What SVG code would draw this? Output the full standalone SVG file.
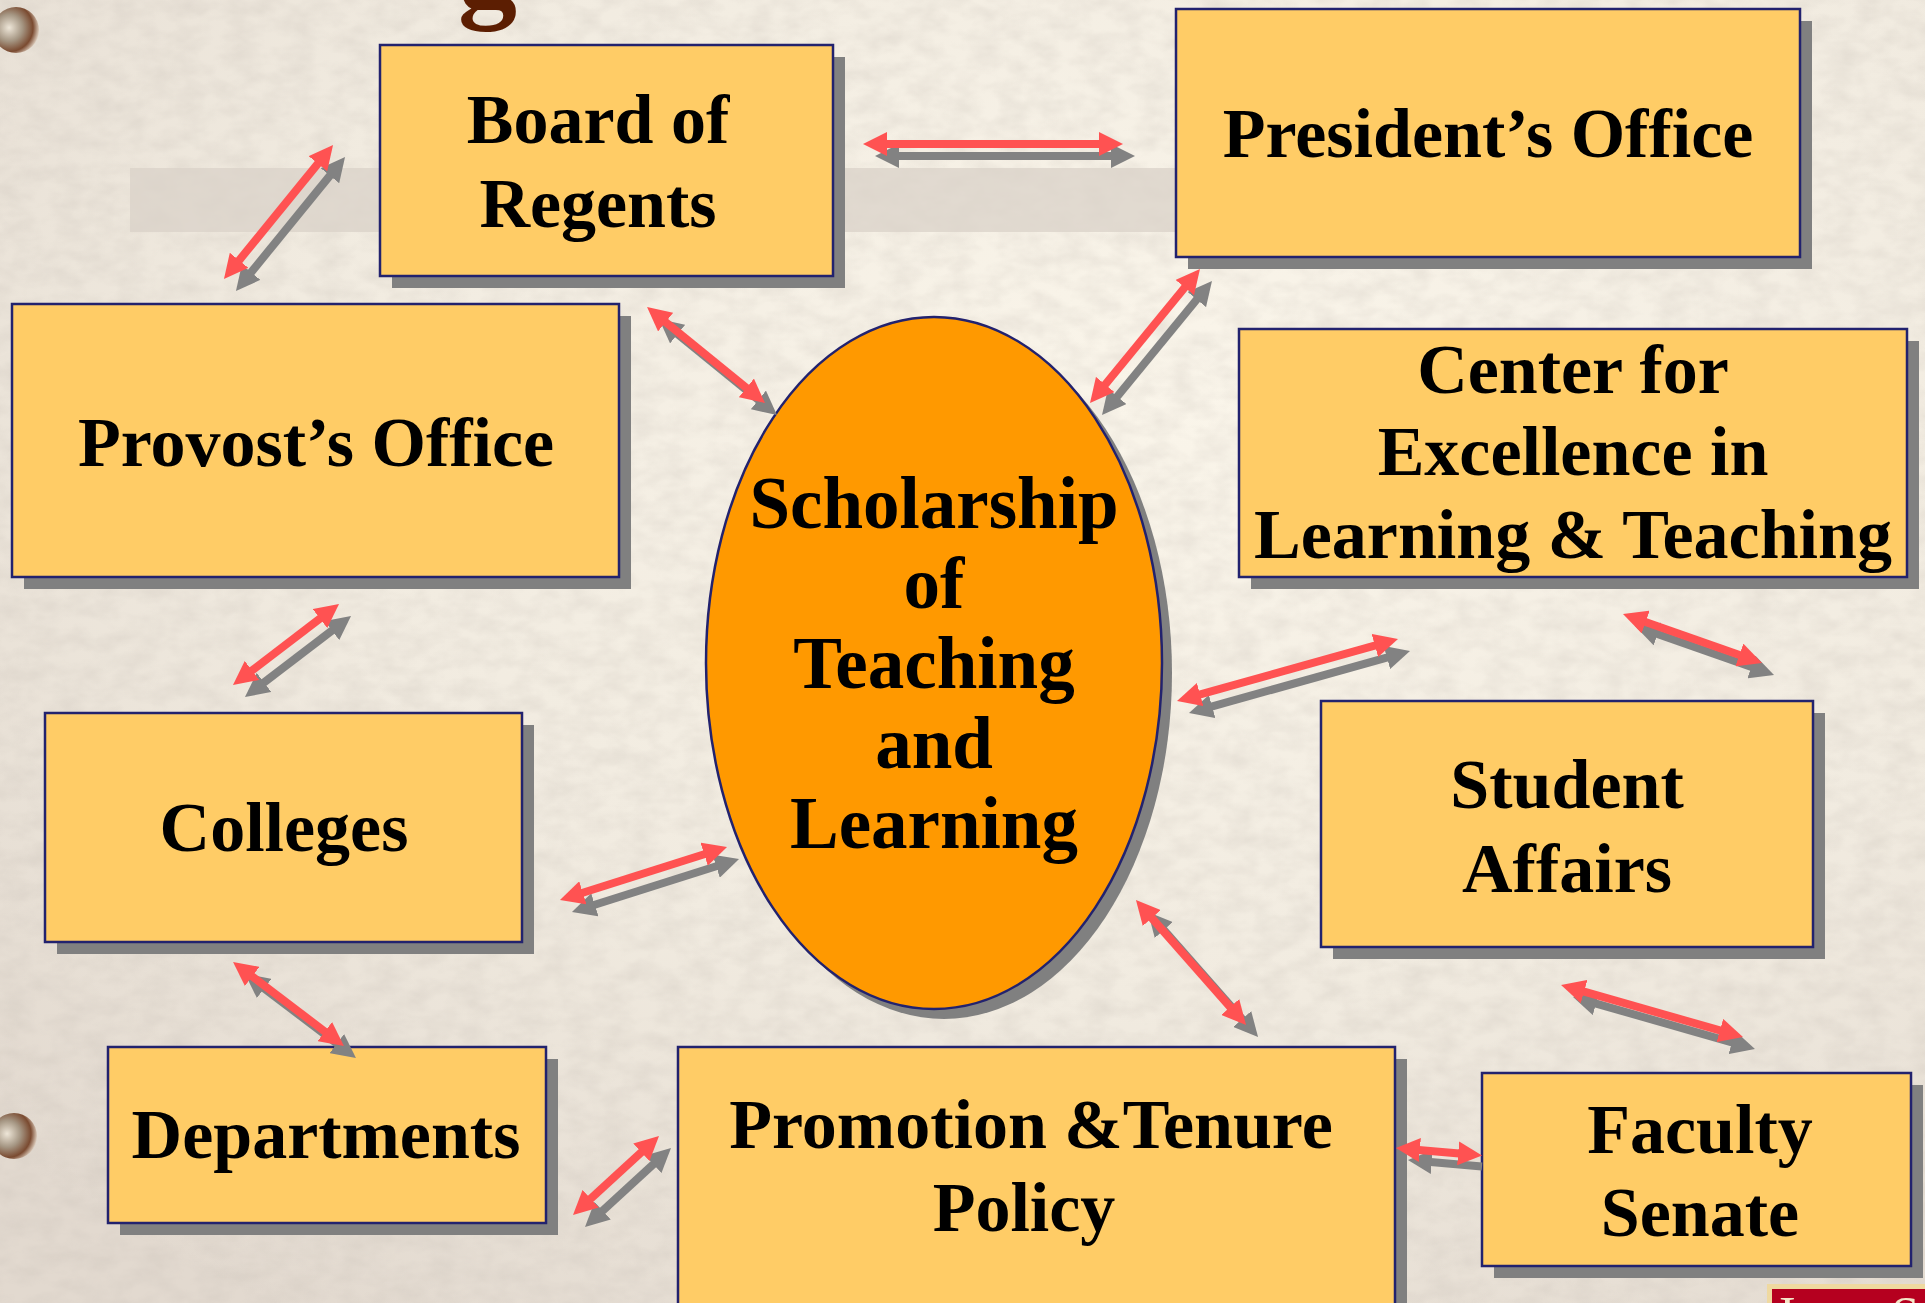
<svg xmlns="http://www.w3.org/2000/svg" width="1925" height="1303" viewBox="0 0 1925 1303">
<style>
.box{fill:#FFCC66;stroke:#22226E;stroke-width:2.5}
.shadow{fill:#808080}
.oval{fill:#FF9900;stroke:#22226E;stroke-width:2.5}
.lbl{font-family:"Liberation Serif","Times New Roman",serif;font-weight:bold;font-size:70px;fill:#000;text-anchor:middle}
.big{font-size:73px}
.red{stroke:#FF5252;stroke-width:8;fill:none;marker-start:url(#hr);marker-end:url(#hr)}
.gry{stroke:#828282;stroke-width:8;fill:none;marker-start:url(#hg);marker-end:url(#hg)}
</style>
<defs>
<marker id="hr" markerUnits="userSpaceOnUse" markerWidth="24" markerHeight="24" viewBox="0 0 24 24" refX="10" refY="12" orient="auto-start-reverse"><path d="M0,0 L24,12 L0,24 Z" fill="#FF5252"/></marker>
<marker id="hg" markerUnits="userSpaceOnUse" markerWidth="24" markerHeight="24" viewBox="0 0 24 24" refX="10" refY="12" orient="auto-start-reverse"><path d="M0,0 L24,12 L0,24 Z" fill="#828282"/></marker>
<radialGradient id="bg" cx="0.62" cy="0.3" r="0.85">
<stop offset="0" stop-color="#FAF5EA"/>
<stop offset="0.55" stop-color="#F1EBE0"/>
<stop offset="1" stop-color="#E2D9CF"/>
</radialGradient>
<radialGradient id="hole" cx="0.35" cy="0.45" r="0.65">
<stop offset="0" stop-color="#EEE6D8"/>
<stop offset="0.45" stop-color="#A59683"/>
<stop offset="0.8" stop-color="#7A4A30"/>
<stop offset="1" stop-color="#D9C8B8"/>
</radialGradient>
<filter id="tex" x="0" y="0" width="1" height="1">
<feTurbulence type="fractalNoise" baseFrequency="0.035 0.06" numOctaves="3" seed="4"/>
<feColorMatrix type="matrix" values="0 0 0 0 0.55  0 0 0 0 0.5  0 0 0 0 0.45  0 0 0 -1.1 0.75"/>
</filter>
</defs>
<rect width="1925" height="1303" fill="url(#bg)"/>
<rect width="1925" height="1303" filter="url(#tex)" opacity="0.4"/>
<rect x="130" y="168" width="1046" height="64" fill="#DAD2C8" opacity="0.75"/>
<circle cx="16" cy="30" r="23" fill="url(#hole)"/>
<circle cx="14" cy="1136" r="23" fill="url(#hole)"/>
<text x="458" y="6" font-family="Liberation Serif,serif" font-weight="bold" font-size="118" fill="#5C1E02">g</text>
<g id="logo">
<rect x="1767" y="1284" width="170" height="30" fill="#EFD9A0"/>
<rect x="1772" y="1289" width="160" height="25" fill="#B5001F"/>
<text x="1779" y="1331" font-family="Liberation Serif,serif" font-size="50" fill="#F4E6C8">Iowa State</text>
</g>
<g id="nodes">
<g id="board"><rect class="shadow" x="392" y="57" width="453" height="231"/><rect class="box" x="380" y="45" width="453" height="231"/><text class="lbl" x="598" y="143">Board of</text><text class="lbl" x="598" y="227">Regents</text></g>
<g id="president"><rect class="shadow" x="1188" y="21" width="624" height="248"/><rect class="box" x="1176" y="9" width="624" height="248"/><text class="lbl" x="1488" y="157">President’s Office</text></g>
<g id="provost"><rect class="shadow" x="24" y="316" width="607" height="273"/><rect class="box" x="12" y="304" width="607" height="273"/><text class="lbl" x="316" y="466">Provost’s Office</text></g>
<g id="center"><rect class="shadow" x="1251" y="341" width="668" height="248"/><rect class="box" x="1239" y="329" width="668" height="248"/><text class="lbl" x="1573" y="393">Center for</text><text class="lbl" x="1573" y="475">Excellence in</text><text class="lbl" x="1573" y="558">Learning &amp; Teaching</text></g>
<g id="colleges"><rect class="shadow" x="57" y="725" width="477" height="229"/><rect class="box" x="45" y="713" width="477" height="229"/><text class="lbl" x="284" y="851">Colleges</text></g>
<g id="student"><rect class="shadow" x="1333" y="713" width="492" height="246"/><rect class="box" x="1321" y="701" width="492" height="246"/><text class="lbl" x="1567" y="808">Student</text><text class="lbl" x="1567" y="892">Affairs</text></g>
<g id="departments"><rect class="shadow" x="120" y="1059" width="438" height="176"/><rect class="box" x="108" y="1047" width="438" height="176"/><text class="lbl" x="326" y="1158">Departments</text></g>
<g id="promotion"><rect class="shadow" x="690" y="1059" width="717" height="280"/><rect class="box" x="678" y="1047" width="717" height="280"/><text class="lbl" x="1031" y="1148">Promotion &amp;Tenure</text><text class="lbl" x="1024" y="1231">Policy</text></g>
<g id="faculty"><rect class="shadow" x="1494" y="1085" width="429" height="193"/><rect class="box" x="1482" y="1073" width="429" height="193"/><text class="lbl" x="1700" y="1153">Faculty</text><text class="lbl" x="1700" y="1236">Senate</text></g>
<g id="scholarship"><ellipse class="shadow" cx="944" cy="673" rx="228" ry="346"/><ellipse class="oval" cx="934" cy="663" rx="228" ry="346"/><text class="lbl big" x="934" y="528">Scholarship</text><text class="lbl big" x="934" y="608">of</text><text class="lbl big" x="934" y="688">Teaching</text><text class="lbl big" x="934" y="768">and</text><text class="lbl big" x="934" y="848">Learning</text></g>
</g>
<g id="connectors">
<g transform="translate(12,12)">
<line class="gry" x1="324.2" y1="155.9" x2="232.8" y2="268.1"/>
<line class="gry" x1="877" y1="144" x2="1109" y2="144"/>
<line class="gry" x1="657.9" y1="315.8" x2="754.1" y2="394.2"/>
<line class="gry" x1="1191.1" y1="279.8" x2="1098.9" y2="392.2"/>
<line class="gry" x1="327.9" y1="612.5" x2="244.1" y2="676.5"/>
<line class="gry" x1="1384.5" y1="642.8" x2="1190.5" y2="697.2"/>
<line class="gry" x1="1636.2" y1="618.7" x2="1748.8" y2="658.3"/>
<line class="gry" x1="713.7" y1="851.2" x2="573.3" y2="895.8"/>
<line class="gry" x1="244.2" y1="970.4" x2="332.8" y2="1037.6"/>
<line class="gry" x1="1145.2" y1="910.5" x2="1236.8" y2="1014.5"/>
<line class="gry" x1="1574.5" y1="988.8" x2="1729.5" y2="1033.2"/>
<line class="gry" x1="648.7" y1="1145.5" x2="583.3" y2="1205.5"/>
<line class="gry" style="marker-end:none" x1="1409.9" y1="1149.2" x2="1470" y2="1154.5"/>
</g>
<line class="red" x1="324.2" y1="155.9" x2="232.8" y2="268.1"/>
<line class="red" x1="877" y1="144" x2="1109" y2="144"/>
<line class="red" x1="657.9" y1="315.8" x2="754.1" y2="394.2"/>
<line class="red" x1="1191.1" y1="279.8" x2="1098.9" y2="392.2"/>
<line class="red" x1="327.9" y1="612.5" x2="244.1" y2="676.5"/>
<line class="red" x1="1384.5" y1="642.8" x2="1190.5" y2="697.2"/>
<line class="red" x1="1636.2" y1="618.7" x2="1748.8" y2="658.3"/>
<line class="red" x1="713.7" y1="851.2" x2="573.3" y2="895.8"/>
<line class="red" x1="244.2" y1="970.4" x2="332.8" y2="1037.6"/>
<line class="red" x1="1145.2" y1="910.5" x2="1236.8" y2="1014.5"/>
<line class="red" x1="1574.5" y1="988.8" x2="1729.5" y2="1033.2"/>
<line class="red" x1="648.7" y1="1145.5" x2="583.3" y2="1205.5"/>
<line class="red" x1="1409.9" y1="1149.2" x2="1468.1" y2="1154.2"/>
</g>
</svg>
